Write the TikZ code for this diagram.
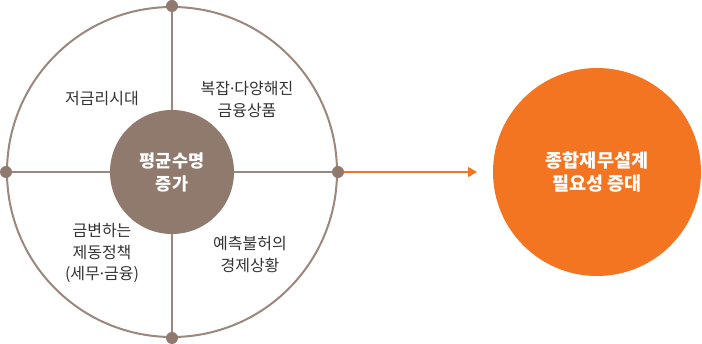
\documentclass[tikz,border=0pt]{standalone}
\usepackage{fontspec}
\setmainfont{Noto Sans CJK KR}
\newfontfamily\narrowdot{Noto Sans}
\newcommand{\mdot}{{\narrowdot ·}}
\usetikzlibrary{arrows.meta}
\definecolor{brownline}{HTML}{9B877C}
\definecolor{brownfill}{HTML}{8F7A6D}
\definecolor{orangefill}{HTML}{F37521}
\definecolor{labeltext}{HTML}{333333}
\tikzset{
  ring/.style={circle, draw=brownline, line width=2pt, minimum size=330pt, inner sep=0pt},
  hub/.style={circle, fill=brownfill, minimum size=124pt, inner sep=0pt, text=white, align=center, font=\fontsize{17.5}{23}\selectfont\bfseries},
  goal/.style={circle, fill=orangefill, minimum size=208pt, inner sep=0pt, text=white, align=center, font=\fontsize{18.5}{23.5}\selectfont\bfseries},
  dotmark/.style={circle, fill=brownfill, minimum size=12pt, inner sep=0pt},
  spoke/.style={draw=brownline, line width=1.5pt},
  quad/.style={text=labeltext, align=center, font=\fontsize{16}{21.5}\selectfont},
  flow/.style={draw=orangefill, line width=1.5pt, -{Triangle[length=9pt,width=10pt]}}
}
\begin{document}
\begin{tikzpicture}[x=1pt,y=-1pt]
\useasboundingbox (0,0) rectangle (702,344);
\node[ring] (outer) at (172,172) {};
\node[hub] (inner) at (172,172) {평균수명\\증가};
\draw[spoke] (outer.north) -- (inner.north);
\draw[spoke] (outer.south) -- (inner.south);
\draw[spoke] (outer.west) -- (inner.west);
\draw[spoke] (outer.east) -- (inner.east);
\node[dotmark] (dn) at (outer.north) {};
\node[dotmark] (ds) at (outer.south) {};
\node[dotmark] (dw) at (outer.west) {};
\node[dotmark] (de) at (outer.east) {};
\node[goal] (result) at (597,172) {종합재무설계\\필요성 증대};
\coordinate (tip) at (477,172);
\draw[flow] (de.east) -- (tip);
\node[quad] (q1) at (102,99) {저금리시대};
\node[quad] (q2) at (247,99.5) {복잡\mdot 다양해진\\금융상품};
\node[quad] (q3) at (102,253) {금변하는\\제동정책\\(세무\mdot 금융)};
\node[quad] (q4) at (250,254.5) {예측불허의\\경제상황};
\end{tikzpicture}
\end{document}
